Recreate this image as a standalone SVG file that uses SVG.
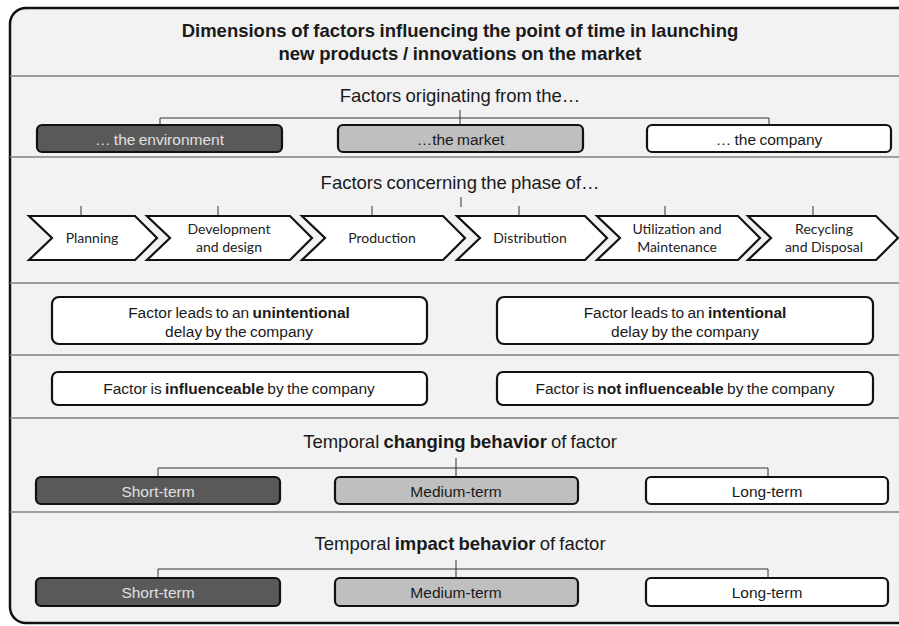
<svg xmlns="http://www.w3.org/2000/svg" width="899" height="626" viewBox="0 0 899 626">
  <style>
    .frame { fill: #f2f2f2; stroke: #111; stroke-width: 2.5; }
    .sep { stroke: #808080; stroke-width: 1.5; }
    .conn { stroke: #333; stroke-width: 1; fill: none; }
    .box { stroke: #111; stroke-width: 2.2; }
    .dark { fill: #595959; }
    .mid { fill: #bfbfbf; }
    .light { fill: #ffffff; }
    .chev { fill: #ffffff; stroke: #111; stroke-width: 2.2; stroke-linejoin: miter; }
    text { font-family: "Liberation Sans", Arial, sans-serif; fill: #1a1a1a; text-anchor: middle; }
    .title { font-size: 18.5px; font-weight: bold; word-spacing: -0.5px; }
    .head { font-size: 18.5px; word-spacing: -1px; }
    .lbl { font-size: 15.5px; word-spacing: -1px; }
    .inv { fill: #e0e0e0; }
    .ph { font-family: Lato, "Noto Sans", sans-serif; font-size: 14px; fill: #222; }
    .b { font-weight: bold; }
  </style>

  <!-- outer frame -->
  <rect class="frame" x="10" y="8" width="910" height="615" rx="16"/>

  <!-- section separators -->
  <g id="separators">
    <line class="sep" x1="10" y1="76" x2="899" y2="76"/>
    <line class="sep" x1="10" y1="157" x2="899" y2="157"/>
    <line class="sep" x1="10" y1="283" x2="899" y2="283"/>
    <line class="sep" x1="10" y1="355" x2="899" y2="355"/>
    <line class="sep" x1="10" y1="418" x2="899" y2="418"/>
    <line class="sep" x1="10" y1="512" x2="899" y2="512"/>
  </g>

  <!-- title -->
  <g id="title">
    <text class="title" x="460" y="37">Dimensions of factors influencing the point of time in launching</text>
    <text class="title" x="460" y="60">new products / innovations on the market</text>
  </g>

  <!-- connectors -->
  <g id="connectors">
    <path class="conn" d="M160,125 V118 H769 V125 M460,110 V125"/>
    <path class="conn" d="M461,197 V207"/>
    <path class="conn" d="M81,206 V216 M218,206 V216 M372,206 V216 M519,206 V216 M665,206 V216 M813,206 V216"/>
    <path class="conn" d="M158,477 V468 H768 V477 M456,458 V477"/>
    <path class="conn" d="M158,578 V569 H768 V578 M456,560 V578"/>
  </g>

  <!-- origin -->
  <g id="origin-heading"><text class="head" x="460" y="102">Factors originating from the…</text></g>
  <g id="origin-environment">
    <rect class="box dark" x="37" y="125" width="245" height="27" rx="5"/>
    <text class="lbl inv" x="159.5" y="145">… the environment</text>
  </g>
  <g id="origin-market">
    <rect class="box mid" x="338" y="125" width="245" height="27" rx="5"/>
    <text class="lbl" x="460.5" y="145">…the market</text>
  </g>
  <g id="origin-company">
    <rect class="box light" x="647" y="125" width="244" height="27" rx="5"/>
    <text class="lbl" x="769" y="145">… the company</text>
  </g>

  <!-- phases -->
  <g id="phase-heading"><text class="head" x="460" y="189">Factors concerning the phase of…</text></g>
  <g id="phase-planning">
    <polygon class="chev" points="29,216 135,216 157,238 135,260 29,260 52,238"/>
    <text class="ph" x="92" y="243">Planning</text>
  </g>
  <g id="phase-development">
    <polygon class="chev" points="147,216 290,216 312,238 290,260 147,260 170,238"/>
    <text class="ph" x="229" y="234">Development</text>
    <text class="ph" x="229" y="252">and design</text>
  </g>
  <g id="phase-production">
    <polygon class="chev" points="302,216 443,216 465,238 443,260 302,260 325,238"/>
    <text class="ph" x="382" y="243">Production</text>
  </g>
  <g id="phase-distribution">
    <polygon class="chev" points="457,216 585,216 607,238 585,260 457,260 480,238"/>
    <text class="ph" x="530" y="243">Distribution</text>
  </g>
  <g id="phase-utilization">
    <polygon class="chev" points="597,216 738,216 760,238 738,260 597,260 620,238"/>
    <text class="ph" x="677" y="234">Utilization and</text>
    <text class="ph" x="677" y="252">Maintenance</text>
  </g>
  <g id="phase-recycling">
    <polygon class="chev" points="748,216 876,216 898,238 876,260 748,260 771,238"/>
    <text class="ph" x="824" y="234">Recycling</text>
    <text class="ph" x="824" y="252">and Disposal</text>
  </g>

  <!-- delay -->
  <g id="delay-unintentional">
    <rect class="box light" x="52" y="297" width="375" height="47" rx="7"/>
    <text class="lbl" x="239" y="318">Factor leads to an <tspan class="b">unintentional</tspan></text>
    <text class="lbl" x="239" y="337">delay by the company</text>
  </g>
  <g id="delay-intentional">
    <rect class="box light" x="497" y="297" width="376" height="47" rx="7"/>
    <text class="lbl" x="685" y="318">Factor leads to an <tspan class="b">intentional</tspan></text>
    <text class="lbl" x="685" y="337">delay by the company</text>
  </g>

  <!-- influenceability -->
  <g id="influenceable">
    <rect class="box light" x="52" y="372" width="375" height="33" rx="6"/>
    <text class="lbl" x="239" y="394">Factor is <tspan class="b">influenceable</tspan> by the company</text>
  </g>
  <g id="not-influenceable">
    <rect class="box light" x="497" y="372" width="376" height="33" rx="6"/>
    <text class="lbl" x="685" y="394">Factor is <tspan class="b">not influenceable</tspan> by the company</text>
  </g>

  <!-- changing behavior -->
  <g id="changing-heading"><text class="head" x="460" y="448">Temporal <tspan class="b">changing behavior</tspan> of factor</text></g>
  <g id="changing-short">
    <rect class="box dark" x="36" y="477" width="244" height="27" rx="5"/>
    <text class="lbl inv" x="158" y="496.5">Short-term</text>
  </g>
  <g id="changing-medium">
    <rect class="box mid" x="335" y="477" width="243" height="27" rx="5"/>
    <text class="lbl" x="456" y="496.5">Medium-term</text>
  </g>
  <g id="changing-long">
    <rect class="box light" x="646" y="477" width="242" height="27" rx="5"/>
    <text class="lbl" x="767" y="496.5">Long-term</text>
  </g>

  <!-- impact behavior -->
  <g id="impact-heading"><text class="head" x="460" y="550">Temporal <tspan class="b">impact behavior</tspan> of factor</text></g>
  <g id="impact-short">
    <rect class="box dark" x="36" y="578" width="244" height="28" rx="5"/>
    <text class="lbl inv" x="158" y="597.5">Short-term</text>
  </g>
  <g id="impact-medium">
    <rect class="box mid" x="335" y="578" width="243" height="28" rx="5"/>
    <text class="lbl" x="456" y="597.5">Medium-term</text>
  </g>
  <g id="impact-long">
    <rect class="box light" x="646" y="578" width="242" height="28" rx="5"/>
    <text class="lbl" x="767" y="597.5">Long-term</text>
  </g>
</svg>
